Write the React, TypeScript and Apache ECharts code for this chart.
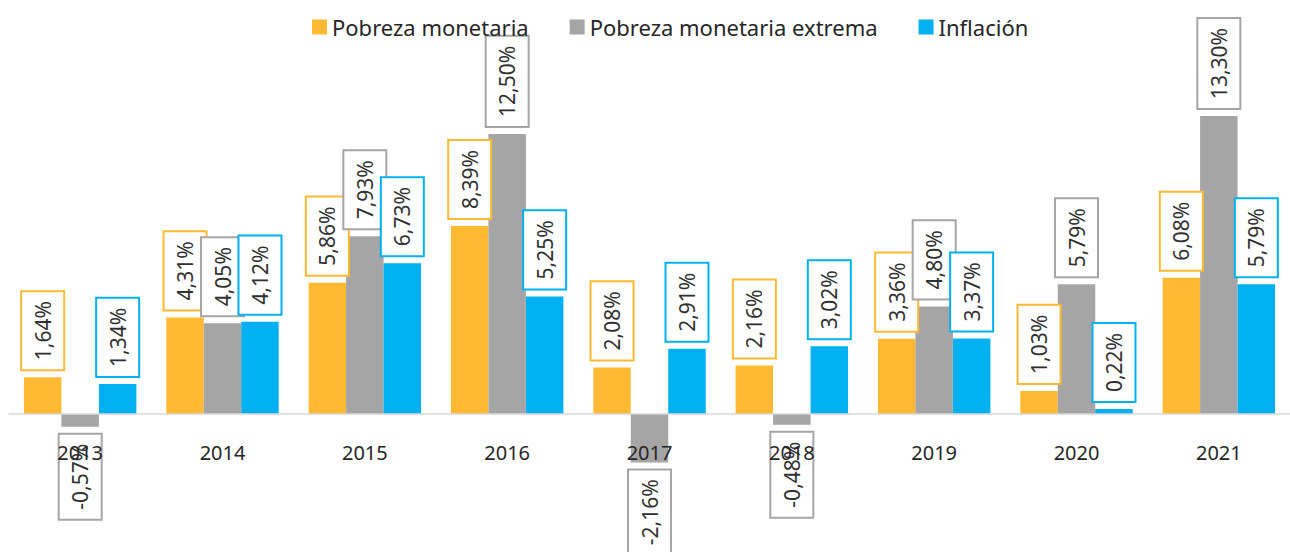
import React, { useEffect, useRef } from "react";
import * as echarts from "echarts";

const categories = ["2013", "2014", "2015", "2016", "2017", "2018", "2019", "2020", "2021"];
const pobreza = [1.64, 4.31, 5.86, 8.39, 2.08, 2.16, 3.36, 1.03, 6.08];
const extrema = [-0.57, 4.05, 7.93, 12.5, -2.16, -0.48, 4.8, 5.79, 13.3];
const inflacion = [1.34, 4.12, 6.73, 5.25, 2.91, 3.02, 3.37, 0.22, 5.79];
const seriesNames = ["Pobreza monetaria", "Pobreza monetaria extrema", "Inflación"];
const colors = ["#FFB933", "#A5A5A5", "#00B0F0"];

const FONT = "'Noto Sans', 'Open Sans', sans-serif";

function fmt(v: number) {
  return v.toFixed(2).replace(".", ",") + "%";
}

function makeSeries(name: string, values: number[], color: string) {
  return {
    name,
    type: "bar",
    barGap: "0%",
    barCategoryGap: "21%",
    itemStyle: { color },
    label: {
      show: true,
      rotate: 90,
      verticalAlign: "middle",
      distance: 8,
      fontFamily: FONT,
      fontSize: 21,
      lineHeight: 21,
      color: "#303030",
      backgroundColor: "#ffffff",
      borderColor: color,
      borderWidth: 2,
      padding: [10, 9],
      formatter: (p: any) => fmt(p.value),
    },
    data: values.map((v) => ({
      value: v,
      label: v < 0 ? { position: "bottom", align: "right" } : { position: "top", align: "left" },
    })),
  };
}

export default function App() {
  const ref = useRef<HTMLDivElement>(null);
  useEffect(() => {
    if (!ref.current) return;
    const chart = echarts.init(ref.current, null, { renderer: "svg" });
    chart.setOption({
      animation: false,
      backgroundColor: "#ffffff",
      textStyle: { fontFamily: FONT },
      legend: {
        top: 11,
        left: 307,
        icon: "rect",
        itemWidth: 15,
        itemHeight: 15,
        itemGap: 41,
        textStyle: { fontFamily: FONT, fontSize: 22, color: "#262626" },
        data: seriesNames,
      },
      grid: { left: 9, right: 0, top: 100.4, height: 403.2, containLabel: false },
      xAxis: {
        type: "category",
        data: categories,
        z: 10,
        axisTick: { show: false },
        axisLine: { lineStyle: { color: "#D9D9D9", width: 1.5 } },
        axisLabel: { fontFamily: FONT, fontSize: 20, color: "#262626", margin: -61 },
      },
      yAxis: {
        type: "value",
        min: -4,
        max: 14,
        show: false,
        splitLine: { show: false },
      },
      series: [
        makeSeries(seriesNames[0], pobreza, colors[0]),
        makeSeries(seriesNames[1], extrema, colors[1]),
        makeSeries(seriesNames[2], inflacion, colors[2]),
      ],
    });
    return () => chart.dispose();
  }, []);
  return (
    <div
      ref={ref}
      style={{ position: "fixed", left: 0, top: 0, width: 1290, height: 552, background: "#fff" }}
    />
  );
}
